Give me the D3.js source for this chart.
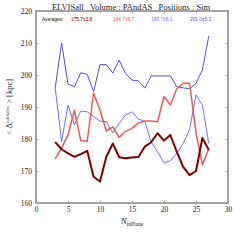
<!DOCTYPE html>
<html><head><meta charset="utf-8">
<script src="https://cdn.jsdelivr.net/npm/d3@7"></script>
<style>body{margin:0;background:#fff}svg{display:block}</style>
</head><body>
<script>
const nInPlane = [3,4,5,6,7,8,9,10,11,12,13,14,15,16,17,18,19,20,21,22,23,24,25,26,27];
const darkRed = [179,176.8,175.5,174.4,175.3,176.3,168.2,166.7,174.5,178.6,174.3,174,174.2,174.4,177.6,179,181.8,179.5,181.25,176,171.3,168.7,170,180.3,176.6];
const lightRed = [173.8,177.2,181.2,189,179.5,179.3,194.3,189,182.5,183.8,180.5,182.4,183.3,185,185.6,185.6,185.4,193.2,190.6,195.7,197.4,197.4,182,172,177];
const lightBlue = [196,179.2,190.6,184.4,188.75,188.5,187,185.6,185.4,182,184.9,187.5,188.5,186.2,185.6,179,176,172.5,173.2,175.5,178.6,183,193.8,190.6,178.6];
const darkBlue = [196,210,197.2,196.3,200.7,200.2,194.8,203.3,203.2,200.6,204.6,200.4,198.4,198.2,195.9,199.7,199.7,199.7,199.7,196.3,196,195.7,197.4,201.6,212.2];
const averages = ["175.7±3.8","184.7±6.7","183.7±6.1","201.0±5.1"];
const xTicks = [0,5,10,15,20,25,30];
const yTicks = [160,170,180,190,200,210,220];

const W=240,H=240;
const m={l:36,r:228,t:11,b:203};
const svg=d3.select("body").append("svg").attr("width",W).attr("height",H);
const x=d3.scaleLinear().domain([0,30]).range([m.l,m.r]);
const y=d3.scaleLinear().domain([160,220]).range([m.b,m.t]);
const serif="'Liberation Serif','DejaVu Serif',serif";
const gray="#9a9a9a";

// axes with inward ticks
const ax=[
 {g:d3.axisBottom(x).tickValues(xTicks).tickSize(-2.5).tickPadding(4),t:`translate(0,${m.b})`,lab:true},
 {g:d3.axisTop(x).tickValues(xTicks).tickSize(-2.5).tickFormat(""),t:`translate(0,${m.t})`},
 {g:d3.axisLeft(y).tickValues(yTicks).tickSize(-2.5).tickPadding(4),t:`translate(${m.l},0)`,lab:true},
 {g:d3.axisRight(y).tickValues(yTicks).tickSize(-2.5).tickFormat(""),t:`translate(${m.r},0)`}
];
ax.forEach(a=>{
  const g=svg.append("g").attr("transform",a.t).call(a.g);
  g.select(".domain").remove();
  g.selectAll(".tick line").attr("stroke",gray).attr("stroke-width",0.8);
  g.selectAll(".tick text").attr("font-family",serif).attr("font-size",7.5).attr("fill","#222");
});
svg.append("rect").attr("x",m.l).attr("y",m.t).attr("width",m.r-m.l).attr("height",m.b-m.t)
  .attr("fill","none").attr("stroke",gray).attr("stroke-width",1.8);

const series=[
 {v:darkBlue,c:"#5050cc",w:1},
 {v:lightBlue,c:"#7272ee",w:1},
 {v:lightRed,c:"#ee5858",w:1.5},
 {v:darkRed,c:"#800000",w:2}
];
const line=d3.line().x((d,i)=>x(nInPlane[i])).y(d=>y(d));
svg.append("g").selectAll("path").data(series).join("path")
  .attr("d",s=>line(s.v)).attr("fill","none").attr("stroke",s=>s.c).attr("stroke-width",s=>s.w)
  .attr("stroke-linejoin","round");

// legend
const sans="'Liberation Sans',Arial,sans-serif";
svg.append("text").attr("x",42).attr("y",21).attr("font-family",sans).attr("font-size",4.8).attr("fill","#111").text("Averages:");
const lx=[71,113,151,190];
const lc=["#800000","#ee5858","#7272ee","#5050cc"];
averages.forEach((t,i)=>svg.append("text").attr("x",lx[i]).attr("y",21).attr("font-family",sans)
  .attr("font-size",4.8).attr("fill",lc[i]).text(t));

// title
svg.append("text").attr("x",131).attr("y",9.5).attr("text-anchor","middle").attr("font-family",serif)
  .attr("font-size",8.5).attr("fill","#222").attr("xml:space","preserve")
  .text("ELVISall   Volume : PAndAS   Positions : Sim");

// x label
const xl=svg.append("text").attr("x",132).attr("y",224).attr("text-anchor","middle").attr("font-family",serif).attr("fill","#222");
xl.append("tspan").attr("font-size",9).attr("font-style","italic").text("N");
xl.append("tspan").attr("font-size",5.5).attr("dy",1.5).text("inPlane");

// y label
const yl=svg.append("text").attr("transform","translate(12,107) rotate(-90)").attr("text-anchor","middle")
  .attr("font-family",serif).attr("fill","#333").attr("font-size",8.5);
yl.append("tspan").text("< Δ");
yl.append("tspan").attr("font-size",5).attr("dy",2).text("r");
yl.append("tspan").attr("font-size",5).attr("dx",-2).attr("dy",-5.5).text("subhalos");
yl.append("tspan").attr("font-size",8.5).attr("dy",3.5).text(" > [kpc]");
</script>
</body></html>
